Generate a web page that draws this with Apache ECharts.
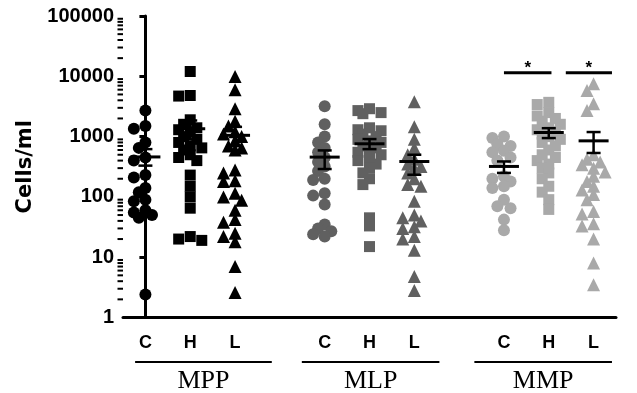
<!DOCTYPE html>
<html>
<head>
<meta charset="UTF-8">
<title>Cells/ml</title>
<script src="https://cdn.jsdelivr.net/npm/echarts@6/dist/echarts.min.js"></script>
<style>body{margin:0;background:#fff}</style>
</head>
<body>
<div id="main" style="width:637px;height:393px"></div>
<script>
// categories on the x axis (empty slots are the gaps between groups)
var categories = ['C', 'H', 'L', '', 'C', 'H', 'L', '', 'C', 'H', 'L'];
var groupNames = ['MPP', 'MLP', 'MMP'];
var groupColors = ['#000000', '#606060', '#a9a9a9'];
var columnSymbols = ['circle', 'rect', 'triangle'];

// cells/ml
var mppC = [2700, 1500, 1350, 800, 650, 450, 400, 230, 210, 140, 120, 90, 85, 60, 55, 50, 45, 2.4];
var mppH = [12000, 4800, 4700, 1900, 1600, 1400, 1300, 1200, 1000, 900, 800, 700, 650, 600, 500, 450, 400, 230, 150, 100, 65, 22, 20, 19];
var mppL = [9900, 6000, 2900, 1800, 1500, 1200, 1100, 1000, 850, 700, 650, 600, 280, 250, 185, 180, 115, 100, 88, 60, 42, 38, 25, 22, 18, 7, 2.6];
var mlpC = [3200, 1600, 1000, 800, 650, 550, 450, 380, 320, 270, 200, 190, 115, 105, 75, 35, 30, 27, 24, 22];
var mlpH = [2900, 2700, 2500, 2400, 1400, 1300, 1250, 1100, 1000, 900, 850, 800, 700, 650, 600, 550, 500, 450, 400, 350, 300, 250, 200, 160, 45, 33, 15];
var mlpL = [3800, 1450, 900, 650, 500, 420, 350, 320, 300, 250, 200, 160, 150, 85, 50, 45, 40, 32, 30, 22, 20, 13, 4.8, 2.8];
var mmpC = [1000, 950, 750, 700, 580, 550, 450, 400, 220, 200, 180, 150, 140, 90, 70, 65, 42, 28];
var mmpH = [3700, 3400, 2500, 2200, 2000, 1800, 1600, 1400, 1300, 1200, 1100, 1000, 900, 800, 700, 600, 500, 450, 400, 350, 300, 250, 200, 150, 120, 90, 62];
var mmpL = [7500, 5800, 3500, 2700, 500, 420, 380, 340, 300, 260, 220, 180, 150, 130, 110, 90, 57, 52, 36, 33, 20, 8, 3.5];

// mean and SEM bar ends, same column order
var means   = [460, 1350, 1050, 457, 760, 386, 320, 1170, 850];
var semLow  = [330, 900, 700, 290, 620, 233, 250, 945, 535];
var semHigh = [620, 1850, 1450, 590, 910, 500, 387, 1380, 1190];

// significance bars: from column, to column, height, label
var sigFrom = [8.0, 9.38];
var sigTo = [9.06, 10.41];
var sigLevel = [11400, 11400];
var sigText = ['*', '*'];

var columns = [mppC, mppH, mppL, mlpC, mlpH, mlpL, mmpC, mmpH, mmpL];
var columnPos = [0, 1, 2, 4, 5, 6, 8, 9, 10];

var chart = echarts.init(document.getElementById('main'));

chart.setOption({
  animation: false,
  grid: {left: 123, right: 21, top: 16, bottom: 75.5},
  xAxis: [{
    type: 'category',
    data: categories,
    boundaryGap: true,
    axisLine: {lineStyle: {color: '#000', width: 3}},
    axisTick: {alignWithLabel: true, interval: 0, length: 8, lineStyle: {color: '#000', width: 3}},
    axisLabel: {interval: 0, color: '#000', fontWeight: 'bold', fontSize: 18, fontFamily: 'Liberation Sans', margin: 17},
    splitLine: {show: false}
  }, {
    type: 'value', min: -0.5, max: 10.5, show: false
  }],
  yAxis: {
    type: 'log',
    logBase: 10,
    min: 1,
    max: 100000,
    splitNumber: 5,
    name: 'Cells/ml',
    nameLocation: 'middle',
    nameGap: 65,
    nameTextStyle: {color: '#000', fontWeight: 'bold', fontSize: 21, fontFamily: 'DejaVu Sans'},
    axisLine: {show: true, lineStyle: {color: '#000', width: 3}},
    axisTick: {show: true, length: 6, lineStyle: {color: '#000', width: 3}},
    axisLabel: {
      color: '#000', fontWeight: 'bold', fontSize: 20, fontFamily: 'Liberation Sans', margin: 9,
      formatter: function (v) { return String(Math.round(v)); }
    },
    splitLine: {show: false}
  }
});

// spread points sideways like a dot plot so they do not pile up
function swarm(vals, col) {
  var band = chart.convertToPixel({xAxisIndex: 1}, 1) - chart.convertToPixel({xAxisIndex: 1}, 0);
  var s = 11;
  var steps = [0, -0.6, 0.6, -1.05, 1.05];
  var placed = [];
  return vals.slice().sort(function (a, b) { return b - a; }).map(function (v) {
    var py = chart.convertToPixel({yAxisIndex: 0}, v);
    var best = 0, bestD = -1;
    for (var i = 0; i < steps.length; i++) {
      var px = steps[i] * s;
      var d = Infinity;
      placed.forEach(function (p) { d = Math.min(d, Math.hypot(p[0] - px, p[1] - py)); });
      if (d >= s * 0.7) { best = px; break; }
      if (d > bestD) { bestD = d; best = px; }
    }
    placed.push([best, py]);
    return [col + best / band, v];
  });
}

var series = [];
columns.forEach(function (vals, i) {
  var g = Math.floor(i / 3);
  var sym = columnSymbols[i % 3];
  series.push({
    type: 'scatter',
    xAxisIndex: 1,
    symbol: sym,
    symbolSize: sym === 'triangle' ? 13 : (sym === 'rect' ? 11 : 12),
    itemStyle: {color: groupColors[g], opacity: 1},
    data: swarm(vals, columnPos[i]),
    z: 2
  });
});

// minor ticks of the log axis (2..9 in each decade)
var minorTicks = [];
for (var k = 0; k < 5; k++) {
  for (var m = 2; m < 10; m++) minorTicks.push([-0.5, m * Math.pow(10, k)]);
}
series.push({
  type: 'custom',
  xAxisIndex: 1,
  data: minorTicks,
  silent: true,
  renderItem: function (params, api) {
    var p = api.coord([api.value(0), api.value(1)]);
    return {type: 'line', shape: {x1: p[0] - 5.5, y1: p[1], x2: p[0], y2: p[1]}, style: {stroke: '#000', lineWidth: 2}};
  }
});

// mean +/- SEM
series.push({
  type: 'custom',
  xAxisIndex: 1,
  z: 5,
  silent: true,
  data: means.map(function (v, i) { return [columnPos[i], v, semLow[i], semHigh[i]]; }),
  renderItem: function (params, api) {
    var x = api.value(0);
    var mp = api.coord([x, api.value(1)]);
    var lo = api.coord([x, api.value(2)]);
    var hi = api.coord([x, api.value(3)]);
    var st = {stroke: '#000', lineWidth: 2.5};
    return {type: 'group', children: [
      {type: 'line', shape: {x1: mp[0] - 15, y1: mp[1], x2: mp[0] + 15, y2: mp[1]}, style: {stroke: '#000', lineWidth: 3}},
      {type: 'line', shape: {x1: mp[0], y1: lo[1], x2: mp[0], y2: hi[1]}, style: st},
      {type: 'line', shape: {x1: mp[0] - 7, y1: lo[1], x2: mp[0] + 7, y2: lo[1]}, style: st},
      {type: 'line', shape: {x1: mp[0] - 7, y1: hi[1], x2: mp[0] + 7, y2: hi[1]}, style: st}
    ]};
  }
});

// significance bars
series.push({
  type: 'custom',
  xAxisIndex: 1,
  silent: true,
  data: sigFrom.map(function (v, i) { return [v, sigTo[i], sigLevel[i], i]; }),
  renderItem: function (params, api) {
    var a = api.coord([api.value(0), api.value(2)]);
    var b = api.coord([api.value(1), api.value(2)]);
    return {type: 'group', children: [
      {type: 'line', shape: {x1: a[0], y1: a[1], x2: b[0], y2: b[1]}, style: {stroke: '#000', lineWidth: 3}},
      {type: 'text', x: (a[0] + b[0]) / 2, y: a[1] + 4, style: {
        text: sigText[api.value(3)], fill: '#000', font: 'bold 17px "Liberation Sans"',
        textAlign: 'center', textVerticalAlign: 'bottom'}}
    ]};
  }
});

// group brackets under the axis
var groupFrom = [-0.23, 3.49, 7.34];
var groupTo = [2.82, 6.56, 10.41];
series.push({
  type: 'custom',
  xAxisIndex: 1,
  silent: true,
  data: groupFrom.map(function (v, i) { return [v, groupTo[i], i]; }),
  renderItem: function (params, api) {
    var a = api.coord([api.value(0), 1]);
    var b = api.coord([api.value(1), 1]);
    var y = a[1] + 44.5;
    return {type: 'group', children: [
      {type: 'line', shape: {x1: a[0], y1: y, x2: b[0], y2: y}, style: {stroke: '#000', lineWidth: 2}},
      {type: 'text', x: (a[0] + b[0]) / 2, y: y + 19, style: {
        text: groupNames[api.value(2)], fill: '#000', font: '26px "Liberation Serif"',
        textAlign: 'center', textVerticalAlign: 'middle'}}
    ]};
  }
});

chart.setOption({series: series});
</script>
</body>
</html>
